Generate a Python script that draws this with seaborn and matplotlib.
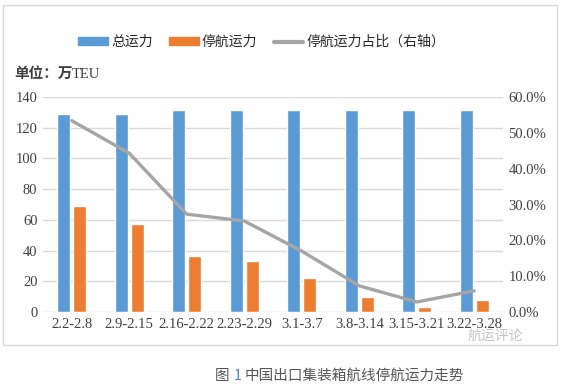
import matplotlib
matplotlib.use("Agg")
import matplotlib.pyplot as plt
import seaborn as sns
import pandas as pd
from matplotlib.patches import Patch, Rectangle
from matplotlib.lines import Line2D
from matplotlib.ticker import FuncFormatter

weeks = ["2.2-2.8", "2.9-2.15", "2.16-2.22", "2.23-2.29", "3.1-3.7",
         "3.8-3.14", "3.15-3.21", "3.22-3.28"]
total_capacity = [129, 129, 131.5, 131.5, 131.5, 131.5, 131.5, 131.5]
idle_capacity = [69, 57, 36.5, 33.5, 22, 9.8, 3.3, 7.8]
idle_share = [53.4, 44.3, 27.3, 25.4, 17.0, 7.3, 2.8, 5.9]

blue = "#5B9BD5"
orange = "#ED7D31"
gray = "#A5A5A5"

sns.set_theme(style="white")
plt.rcParams['font.family'] = ['Noto Sans CJK SC', 'DejaVu Sans']

df = pd.DataFrame({
    "week": weeks * 2,
    "value": total_capacity + idle_capacity,
    "series": ["总运力"] * len(weeks) + ["停航运力"] * len(weeks),
})

fig = plt.figure(figsize=(5.63, 3.88), dpi=100)
fig.patch.set_facecolor("white")
fig.patches.append(Rectangle((3 / 563, 1 - 345 / 388), 554 / 563, 340 / 388,
                             transform=fig.transFigure, fill=False,
                             edgecolor="#d9d9d9", linewidth=1))

ax = fig.add_axes([43 / 563, 1 - 312 / 388, 460 / 563, 215 / 388])
sns.barplot(data=df, x="week", y="value", hue="series", order=weeks,
            palette=[blue, orange], saturation=1, width=0.56, gap=0.18,
            ax=ax, legend=False)
ax.set_ylim(0, 140)
ax.set_yticks(range(0, 141, 20))
ax.set_xlim(-0.5, len(weeks) - 0.5)
ax.set_xlabel("")
ax.set_ylabel("")
ax.grid(axis="y", color="#d9d9d9", linewidth=1)
ax.set_axisbelow(True)
for s in ax.spines.values():
    s.set_visible(False)
ax.tick_params(length=0, pad=4)
for lab in ax.get_xticklabels() + ax.get_yticklabels():
    lab.set_family("Liberation Serif")
    lab.set_fontsize(10.5)
    lab.set_color("#404040")

ax2 = ax.twinx()
sns.lineplot(x=list(range(len(weeks))), y=idle_share, color=gray,
             linewidth=2.4, ax=ax2)
ax2.set_ylim(0, 60)
ax2.set_yticks(range(0, 61, 10))
ax2.yaxis.set_major_formatter(FuncFormatter(lambda v, p: f"{v:.1f}%"))
for s in ax2.spines.values():
    s.set_visible(False)
ax2.tick_params(length=0, pad=4)
for lab in ax2.get_yticklabels():
    lab.set_family("Liberation Serif")
    lab.set_fontsize(10.5)
    lab.set_color("#404040")

handles = [Patch(color=blue), Patch(color=orange),
           Line2D([], [], color=gray, linewidth=3)]
fig.legend(handles, ["总运力", "停航运力", "停航运力占比（右轴）"],
           loc="center", bbox_to_anchor=(262 / 563, 1 - 42 / 388), ncol=3,
           frameon=False, handlelength=2.1, handleheight=0.45,
           handletextpad=0.25, columnspacing=1.2,
           prop={"family": ["Noto Sans CJK SC", "DejaVu Sans"], "size": 10})

fig.text(14 / 563, 1 - 73 / 388, "单位：万", fontsize=10.5, color="#404040",
         fontweight="bold", va="center", ha="left")
fig.text(72 / 563, 1 - 74 / 388, "TEU", fontsize=10.5, color="#404040",
         family="Liberation Serif", va="center", ha="left")

# watermark
fig.text(468 / 563, 1 - 336 / 388, "航运评论", fontsize=10, color="#c4c4c4",
         va="center", ha="left")

fig.text(215 / 563, 1 - 376 / 388, "图", fontsize=10.5, color="#555555",
         va="center", ha="left")
fig.text(234 / 563, 1 - 376 / 388, "1", fontsize=10.5, color="#4a90c8",
         va="center", ha="left")
fig.text(245 / 563, 1 - 376 / 388, "中国出口集装箱航线停航运力走势", fontsize=10.5,
         color="#555555", va="center", ha="left")

fig.savefig("out.png", dpi=100)
